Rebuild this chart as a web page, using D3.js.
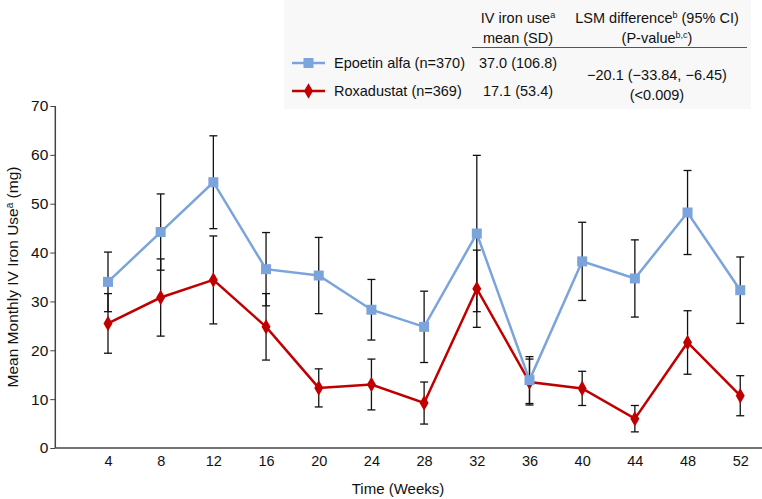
<!DOCTYPE html>
<html><head><meta charset="utf-8">
<script src="https://cdn.jsdelivr.net/npm/d3@7"></script>
<style>body{margin:0;background:#fff}svg{display:block;font-family:"Liberation Sans",Arial,sans-serif}</style>
</head><body><svg id="c" width="762" height="499"></svg>
<script>
const weeks = [4, 8, 12, 16, 20, 24, 28, 32, 36, 40, 44, 48, 52];
const epoetinMean = [34.0, 44.2, 54.4, 36.6, 35.3, 28.3, 24.8, 43.9, 13.9, 38.2, 34.7, 48.2, 32.3];
const epoetinErr  = [6.1, 7.8, 9.5, 7.5, 7.8, 6.2, 7.3, 16.0, 4.8, 8.0, 7.9, 8.6, 6.8];
const roxaMean = [25.5, 30.8, 34.4, 24.8, 12.3, 13.0, 9.2, 32.6, 13.5, 12.2, 6.0, 21.6, 10.7];
const roxaErr  = [6.1, 7.9, 9.0, 6.8, 3.9, 5.2, 4.3, 7.9, 4.7, 3.5, 2.7, 6.5, 4.1];
const yTicks = [0, 10, 20, 30, 40, 50, 60, 70];
const seriesNames = ["Epoetin alfa (n=370)", "Roxadustat (n=369)"];
const ivMeanSD = ["37.0 (106.8)", "17.1 (53.4)"];
const lsmText = ["\u221220.1 (\u221233.84, \u22126.45)", "(<0.009)"];

const svg = d3.select("#c");
const x = d3.scaleLinear().domain([0, 53.5]).range([55.3, 760]);
const y = d3.scaleLinear().domain([0, 70]).range([448, 106]);
const blue = "#7ba3dc", red = "#c00000";
const FS = 14.5;

// Legend / table box
svg.append("rect").attr("x", 284).attr("y", 0).attr("width", 467).attr("height", 109).attr("fill", "#f8f8f8");
const th = svg.append("g").attr("font-size", FS).attr("fill", "#111").attr("text-anchor", "middle");
let t1 = th.append("text").attr("x", 518).attr("y", 23);
t1.append("tspan").text("IV iron use");
t1.append("tspan").attr("font-size", 9).attr("dy", -5).text("a");
th.append("text").attr("x", 518).attr("y", 43).text("mean (SD)");
let t2 = th.append("text").attr("x", 657).attr("y", 23);
t2.append("tspan").text("LSM difference");
t2.append("tspan").attr("font-size", 9).attr("dy", -5).text("b");
t2.append("tspan").attr("dy", 5).text(" (95% CI)");
let t3 = th.append("text").attr("x", 657).attr("y", 43);
t3.append("tspan").text("(P-value");
t3.append("tspan").attr("font-size", 9).attr("dy", -5).text("b,c");
t3.append("tspan").attr("dy", 5).text(")");
svg.append("line").attr("x1", 472).attr("x2", 747).attr("y1", 47.5).attr("y2", 47.5).attr("stroke", "#555").attr("stroke-width", 1);

const legY = [63, 91];
const colors = [blue, red];
seriesNames.forEach((n, i) => {
  svg.append("line").attr("x1", 292).attr("x2", 325).attr("y1", legY[i]).attr("y2", legY[i]).attr("stroke", colors[i]).attr("stroke-width", 2.5);
  svg.append("path").attr("transform", `translate(308.5,${legY[i]})`)
    .attr("d", d3.symbol().type(i === 0 ? d3.symbolSquare : d3.symbolDiamond).size(i === 0 ? 100 : 70)())
    .attr("fill", colors[i]);
  svg.append("text").attr("x", 334).attr("y", legY[i] + 5).attr("font-size", FS).attr("fill", "#111").text(n);
  svg.append("text").attr("x", 518).attr("y", legY[i] + 5).attr("font-size", FS).attr("fill", "#111").attr("text-anchor", "middle").text(ivMeanSD[i]);
});
svg.append("text").attr("x", 657).attr("y", 80).attr("font-size", FS).attr("fill", "#111").attr("text-anchor", "middle").text(lsmText[0]);
svg.append("text").attr("x", 657).attr("y", 100).attr("font-size", FS).attr("fill", "#111").attr("text-anchor", "middle").text(lsmText[1]);

// Axes
const yAxis = svg.append("g").attr("transform", "translate(55.3,0)")
  .call(d3.axisLeft(y).tickValues(yTicks).tickSize(5).tickPadding(2));
yAxis.select(".domain").attr("stroke", "#444").attr("stroke-width", 1.5).attr("d", `M0,${y(70)}V${y(0)}`);
yAxis.selectAll(".tick line").attr("stroke", "#444");
yAxis.selectAll("text").attr("font-size", 15.5).attr("fill", "#111").attr("font-family", "Liberation Sans, Arial, sans-serif");

const xAxis = svg.append("g").attr("transform", `translate(0,${y(0)})`)
  .call(d3.axisBottom(x).tickValues(weeks).tickSize(0).tickPadding(8));
xAxis.select(".domain").attr("stroke", "#444").attr("stroke-width", 1.5).attr("d", `M${x(0)},0H762`);
xAxis.selectAll("text").attr("font-size", 14.5).attr("fill", "#111").attr("font-family", "Liberation Sans, Arial, sans-serif");

svg.append("text").attr("x", 398).attr("y", 494).attr("text-anchor", "middle").attr("font-size", 15).attr("fill", "#111").text("Time (Weeks)");
const yt = svg.append("text").attr("transform", "translate(18,277) rotate(-90)").attr("text-anchor", "middle").attr("font-size", 15.5).attr("fill", "#111");
yt.append("tspan").text("Mean Monthly IV Iron Use");
yt.append("tspan").attr("font-size", 10).attr("dy", -5).text("a");
yt.append("tspan").attr("dy", 5).text(" (mg)");

// Error bars
function errBars(means, errs) {
  const g = svg.append("g").attr("stroke", "#111").attr("stroke-width", 1.3);
  weeks.forEach((w, i) => {
    const cx = x(w), lo = y(means[i] - errs[i]), hi = y(means[i] + errs[i]);
    g.append("line").attr("x1", cx).attr("x2", cx).attr("y1", lo).attr("y2", hi);
    g.append("line").attr("x1", cx - 4).attr("x2", cx + 4).attr("y1", lo).attr("y2", lo);
    g.append("line").attr("x1", cx - 4).attr("x2", cx + 4).attr("y1", hi).attr("y2", hi);
  });
}
errBars(epoetinMean, epoetinErr);
errBars(roxaMean, roxaErr);

function series(means, color, sym, size) {
  const line = d3.line().x((d, i) => x(weeks[i])).y(d => y(d));
  svg.append("path").datum(means).attr("d", line).attr("fill", "none").attr("stroke", color).attr("stroke-width", 2.5);
  svg.append("g").selectAll("path").data(means).join("path")
    .attr("transform", (d, i) => `translate(${x(weeks[i])},${y(d)})`)
    .attr("d", d3.symbol().type(sym).size(size)())
    .attr("fill", color);
}
series(roxaMean, red, d3.symbolDiamond, 70);
series(epoetinMean, blue, d3.symbolSquare, 100);
</script></body></html>
